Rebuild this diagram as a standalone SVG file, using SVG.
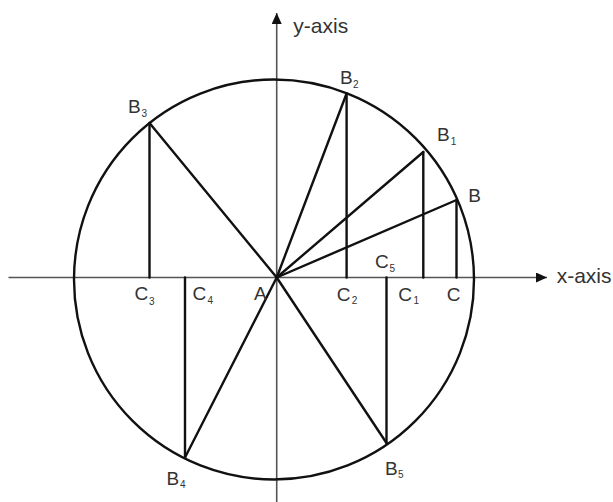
<svg xmlns="http://www.w3.org/2000/svg" width="613" height="502" viewBox="0 0 613 502">
<style>
.ax{stroke:#555;stroke-width:1.6;fill:none}
.ln{stroke:#111;stroke-width:2.4;fill:none;stroke-linecap:round}
.lb{font-family:"Liberation Sans",Arial,sans-serif;font-size:19px;fill:#333}
.sb{font-family:"Liberation Sans",Arial,sans-serif;font-size:10px;fill:#333}
.al{font-family:"Liberation Sans",Arial,sans-serif;font-size:21px;fill:#333}
</style>
<defs>
<marker id="arr" markerWidth="12" markerHeight="10" refX="11" refY="5" orient="auto" markerUnits="userSpaceOnUse">
<path d="M0,0 L11,5 L0,10 Z" fill="#111"/>
</marker>
</defs>
<rect width="613" height="502" fill="#fff"/>
<g id="axes">
<line class="ax" x1="8.5" y1="277.5" x2="547" y2="277.5" marker-end="url(#arr)"/>
<line class="ax" x1="276.7" y1="502" x2="276.7" y2="13" marker-end="url(#arr)"/>
<text class="al" x="556.7" y="283.3">x-axis</text>
<text class="al" x="293.3" y="33.3">y-axis</text>
</g>
<g id="circle">
<circle class="ln" cx="274" cy="279.5" r="200"/>
</g>
<g id="connectors">
<line class="ln" x1="276.7" y1="277.5" x2="456.5" y2="200"/>
<line class="ln" x1="456.5" y1="200" x2="456.5" y2="277.5"/>
<line class="ln" x1="276.7" y1="277.5" x2="423.3" y2="152"/>
<line class="ln" x1="423.3" y1="152" x2="423.3" y2="277.5"/>
<line class="ln" x1="276.7" y1="277.5" x2="346.6" y2="93.5"/>
<line class="ln" x1="346.6" y1="93.5" x2="346.6" y2="277.5"/>
<line class="ln" x1="276.7" y1="277.5" x2="149.5" y2="123"/>
<line class="ln" x1="149.5" y1="123" x2="149.5" y2="277.5"/>
<line class="ln" x1="276.7" y1="277.5" x2="185" y2="457.5"/>
<line class="ln" x1="185" y1="457.5" x2="185" y2="277.5"/>
<line class="ln" x1="276.7" y1="277.5" x2="386.5" y2="443"/>
<line class="ln" x1="386.5" y1="443" x2="386.5" y2="277.5"/>
</g>
<g id="A"><text class="lb" x="254" y="299.5">A</text></g>
<g id="B"><text class="lb" x="468.3" y="201.5">B</text></g>
<g id="C"><text class="lb" x="446.7" y="300.5">C</text></g>
<g id="B1"><text class="lb" x="437" y="141">B</text><text class="sb" x="450.7" y="145">1</text></g>
<g id="C1"><text class="lb" x="398.3" y="300.5">C</text><text class="sb" x="413.5" y="304">1</text></g>
<g id="B2"><text class="lb" x="340" y="84">B</text><text class="sb" x="353" y="88">2</text></g>
<g id="C2"><text class="lb" x="336.7" y="300.5">C</text><text class="sb" x="351.7" y="304">2</text></g>
<g id="B3"><text class="lb" x="128" y="113.3">B</text><text class="sb" x="141.5" y="116.7">3</text></g>
<g id="C3"><text class="lb" x="134.5" y="299.5">C</text><text class="sb" x="149" y="305">3</text></g>
<g id="B4"><text class="lb" x="166.5" y="485">B</text><text class="sb" x="180" y="487.5">4</text></g>
<g id="C4"><text class="lb" x="192.5" y="299.5">C</text><text class="sb" x="207.5" y="303.5">4</text></g>
<g id="B5"><text class="lb" x="385" y="475">B</text><text class="sb" x="398" y="477.5">5</text></g>
<g id="C5"><text class="lb" x="375" y="268.3">C</text><text class="sb" x="389.5" y="271.7">5</text></g>
</svg>
